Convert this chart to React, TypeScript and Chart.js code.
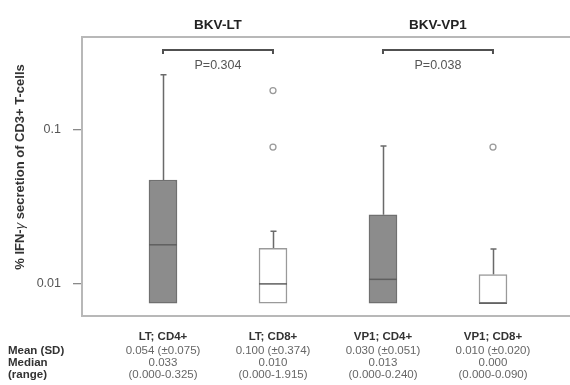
import React, { useEffect, useRef } from "react";
import { Chart, registerables } from "chart.js";

Chart.register(...registerables);

const categories = ["LT; CD4+", "LT; CD8+", "VP1; CD4+", "VP1; CD8+"];
const groupTitles = ["BKV-LT", "BKV-VP1"];
const pValues = ["P=0.304", "P=0.038"];
const boxLow = [0.0075, 0.0075, 0.0075, 0.0075];
const boxHigh = [0.047, 0.017, 0.028, 0.0115];
const medians = [0.0179, 0.01, 0.0107, 0.0075];
const whiskerHigh = [0.225, 0.0219, 0.0778, 0.0168];
const outliers = [
  { cat: 2, value: 0.178 },
  { cat: 2, value: 0.0767 },
  { cat: 4, value: 0.0767 },
];
const yTicks = [0.01, 0.1];
const rowLabels = ["Mean (SD)", "Median", "(range)"];
const meanSD = ["0.054 (\u00b10.075)", "0.100 (\u00b10.374)", "0.030 (\u00b10.051)", "0.010 (\u00b10.020)"];
const medianText = ["0.033", "0.010", "0.013", "0.000"];
const rangeText = ["(0.000-0.325)", "(0.000-1.915)", "(0.000-0.240)", "(0.000-0.090)"];

const FONT = "'Liberation Sans', Arial, sans-serif";
const fills = ["#8c8c8c", "#ffffff", "#8c8c8c", "#ffffff"];
const borders = ["#707070", "#9a9a9a", "#707070", "#9a9a9a"];

const decorPlugin = {
  id: "decor",
  beforeDatasetsDraw(chart: any) {
    const { ctx, scales } = chart;
    const x = scales.x;
    const y = scales.y;
    ctx.save();
    ctx.strokeStyle = "#6a6a6a";
    ctx.lineWidth = 1.5;
    categories.forEach((_, i) => {
      const px = Math.round(x.getPixelForValue(i + 1)) + 0.5;
      const yTop = y.getPixelForValue(whiskerHigh[i]);
      const yBox = y.getPixelForValue(boxHigh[i]);
      ctx.beginPath();
      ctx.moveTo(px, yBox);
      ctx.lineTo(px, yTop);
      ctx.moveTo(px - 3, yTop);
      ctx.lineTo(px + 3, yTop);
      ctx.stroke();
    });
    ctx.restore();
  },
  afterDatasetsDraw(chart: any) {
    const { ctx, chartArea, scales } = chart;
    const x = scales.x;
    const y = scales.y;
    ctx.save();
    ctx.strokeStyle = "#5f5f5f";
    ctx.lineWidth = 1.5;
    categories.forEach((_, i) => {
      const px = x.getPixelForValue(i + 1);
      const py = y.getPixelForValue(medians[i]);
      ctx.beginPath();
      ctx.moveTo(px - 14, py);
      ctx.lineTo(px + 14, py);
      ctx.stroke();
    });
    ctx.strokeStyle = "#b8b8b8";
    ctx.lineWidth = 2;
    ctx.beginPath();
    ctx.moveTo(chartArea.left, chartArea.top);
    ctx.lineTo(chart.width, chartArea.top);
    ctx.moveTo(chartArea.left, chartArea.top - 1);
    ctx.lineTo(chartArea.left, chartArea.bottom + 1);
    ctx.moveTo(chartArea.left, chartArea.bottom);
    ctx.lineTo(chart.width, chartArea.bottom);
    ctx.stroke();
    for (let g = 0; g < 2; g++) {
      const x1 = x.getPixelForValue(g * 2 + 1);
      const x2 = x.getPixelForValue(g * 2 + 2);
      const by = chartArea.top + 13;
      ctx.strokeStyle = "#505050";
      ctx.lineWidth = 2;
      ctx.beginPath();
      ctx.moveTo(x1, by + 4);
      ctx.lineTo(x1, by);
      ctx.lineTo(x2, by);
      ctx.lineTo(x2, by + 4);
      ctx.stroke();
      ctx.fillStyle = "#555";
      ctx.font = `12.5px ${FONT}`;
      ctx.textAlign = "center";
      ctx.textBaseline = "middle";
      ctx.fillText(pValues[g], (x1 + x2) / 2, chartArea.top + 29);
      ctx.fillStyle = "#222";
      ctx.font = `bold 13.5px ${FONT}`;
      ctx.fillText(groupTitles[g], (x1 + x2) / 2, 25);
    }
    ctx.save();
    ctx.translate(20, 167);
    ctx.rotate(-Math.PI / 2);
    ctx.fillStyle = "#333";
    ctx.textBaseline = "middle";
    const parts = [
      { t: "% IFN-", f: `bold 13px ${FONT}` },
      { t: "\u03b3", f: `italic 13px ${FONT}` },
      { t: " secretion of CD3+ T-cells", f: `bold 13px ${FONT}` },
    ];
    let total = 0;
    parts.forEach((p) => {
      ctx.font = p.f;
      total += ctx.measureText(p.t).width;
    });
    let cx = -total / 2;
    ctx.textAlign = "left";
    parts.forEach((p) => {
      ctx.font = p.f;
      ctx.fillText(p.t, cx, 0);
      cx += ctx.measureText(p.t).width;
    });
    ctx.restore();
    ctx.textBaseline = "middle";
    ctx.textAlign = "left";
    ctx.fillStyle = "#333";
    ctx.font = `bold 11.5px ${FONT}`;
    const rowY = [351, 363, 375];
    rowLabels.forEach((l, r) => ctx.fillText(l, 8, rowY[r]));
    ctx.textAlign = "center";
    categories.forEach((c, i) => {
      const px = x.getPixelForValue(i + 1);
      ctx.fillStyle = "#333";
      ctx.font = `bold 11.5px ${FONT}`;
      ctx.fillText(c, px, 337);
      ctx.fillStyle = "#666";
      ctx.font = `11.5px ${FONT}`;
      ctx.fillText(meanSD[i], px, rowY[0]);
      ctx.fillText(medianText[i], px, rowY[1]);
      ctx.fillText(rangeText[i], px, rowY[2]);
    });
    ctx.restore();
  },
};

export default function App() {
  const ref = useRef<HTMLCanvasElement | null>(null);
  useEffect(() => {
    document.body.style.margin = "0";
    const canvas = ref.current;
    if (!canvas) return;
    const chart = new Chart(canvas, {
      type: "bar",
      data: {
        datasets: [
          {
            type: "bar",
            data: categories.map((_, i) => ({ x: i + 1, y: [boxLow[i], boxHigh[i]] })) as any,
            backgroundColor: fills,
            borderColor: borders,
            borderWidth: 1.5,
            borderSkipped: false,
            barThickness: 28,
          } as any,
          {
            type: "scatter",
            data: outliers.map((o) => ({ x: o.cat, y: o.value })),
            pointStyle: "circle",
            pointRadius: 3,
            pointBorderWidth: 1.3,
            pointBorderColor: "#9a9a9a",
            pointBackgroundColor: "rgba(0,0,0,0)",
          } as any,
        ],
      },
      options: {
        animation: false,
        responsive: false,
        layout: { padding: { top: 37, bottom: 69, left: 0, right: 0 } },
        plugins: { legend: { display: false }, tooltip: { enabled: false } },
        scales: {
          x: {
            type: "linear",
            display: false,
            offset: false,
            grid: { display: false },
            border: { display: false },
            min: 1 - 81 / 110,
            max: 4.652,
          },
          y: {
            type: "logarithmic",
            min: 0.0062,
            max: 0.395,
            border: { display: false },
            grid: { drawOnChartArea: false, drawTicks: true, tickLength: 9, color: "#8a8a8a", lineWidth: 1.3 },
            afterBuildTicks: (scale: any) => {
              scale.ticks = yTicks.map((v) => ({ value: v }));
            },
            afterFit: (scale: any) => {
              scale.width = 82;
            },
            ticks: {
              padding: 12,
              color: "#555",
              font: { family: FONT, size: 12.5 },
              callback: (v: any) => String(v),
            },
          },
        },
      },
      plugins: [decorPlugin],
    });
    return () => chart.destroy();
  }, []);
  return (
    <div style={{ position: "absolute", left: 0, top: 0, width: 570, height: 385, background: "#fff", overflow: "hidden" }}>
      <canvas ref={ref} width={570} height={385} style={{ width: 570, height: 385, display: "block" }} />
    </div>
  );
}
